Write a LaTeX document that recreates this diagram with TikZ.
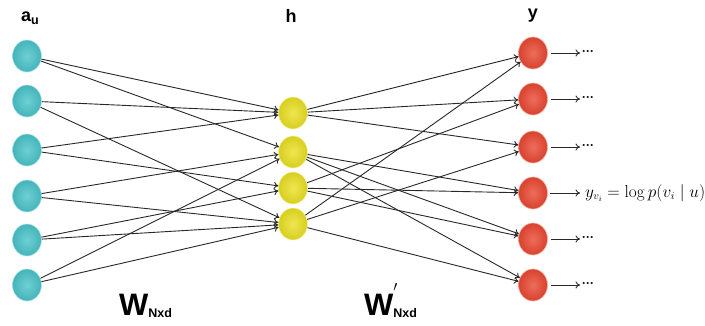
\documentclass[tikz,border=0pt]{standalone}
\usepackage[no-math]{fontspec}
\setmainfont{Liberation Sans}
\usetikzlibrary{arrows.meta,shapes.geometric}
\definecolor{incol}{RGB}{74,196,202}
\definecolor{hidcol}{RGB}{234,224,36}
\definecolor{outcol}{RGB}{234,72,50}
\definecolor{edgecol}{RGB}{40,40,40}
\begin{document}
\begin{tikzpicture}[x=1pt,y=-1pt,
  neuron/.style={ellipse, minimum width=29pt, minimum height=32pt, inner sep=0pt,
    draw=#1!45!white, line width=0.6pt, inner color=#1!80!white, outer color=#1!92!black},
  conn/.style={draw=edgecol, line width=0.9pt, -{To[length=4.5pt,width=7pt]}},
  lbl/.style={font=\fontsize{18}{18}\selectfont\bfseries, inner sep=0pt},
  dots/.style={font=\fontsize{12}{12}\selectfont\bfseries, inner sep=0pt, anchor=west}
]
\useasboundingbox (0,0) rectangle (705,325);

% input layer
\foreach \i/\y in {1/56,2/101,3/150,4/196,5/240,6/285}
  \node[neuron=incol] (i\i) at (27,\y) {};
% hidden layer
\foreach \i/\y in {1/113,2/152,3/188,4/224}
  \node[neuron=hidcol] (h\i) at (293,\y) {};
% output layer
\foreach \i/\y in {1/53,2/99,3/147,4/193,5/239,6/285}
  \node[neuron=outcol] (o\i) at (533,\y) {};

% input -> hidden
\foreach \a/\b in {1/1,1/2,2/1,2/4,3/1,3/3,4/4,4/2,5/4,5/3,6/2,6/4}
  \draw[conn] (i\a) -- (h\b);
% hidden -> output
\foreach \a/\b in {1/1,1/2,1/3,2/4,2/5,2/6,3/2,3/4,3/5,4/1,4/3,4/6}
  \draw[conn] (h\a) -- (o\b);

% output arrows
\foreach \i/\y in {1/53,2/99,3/147,5/239,6/285}{
  \coordinate (e\i) at (580,\y);
  \draw[conn, shorten <=3pt] (o\i.east) -- (e\i);
  \node[dots] (d\i) at (582,\y) {···};
}
\coordinate (e4) at (580,193);
\draw[conn, shorten <=2pt] (o4.east) -- (e4);
\node[anchor=west, inner sep=0pt, font=\fontsize{16}{19}\selectfont] (eq) at (585,193)
  {$y_{v_i}=\log p(v_i\mid u)$};

% layer labels
\node[lbl, anchor=base west] (la) at (21,21) {a\raisebox{-3pt}{\fontsize{12.5}{12.5}\selectfont u}};
\node[lbl, anchor=base] (lh) at (291,22) {h};
\node[lbl, anchor=base] (ly) at (533,18) {y};

% weight labels
\node[inner sep=0pt, anchor=base west] (w1) at (119,315)
  {\fontsize{31}{31}\selectfont\bfseries W\raisebox{-2pt}{\fontsize{12.5}{12.5}\selectfont Nxd}};
\node[inner sep=0pt, anchor=base west] (w2) at (364,315)
  {\fontsize{31}{31}\selectfont\bfseries W\rlap{\raisebox{24pt}{\fontsize{14}{14}\selectfont$\prime$}}\raisebox{-2pt}{\fontsize{12.5}{12.5}\selectfont Nxd}};
\end{tikzpicture}
\end{document}
